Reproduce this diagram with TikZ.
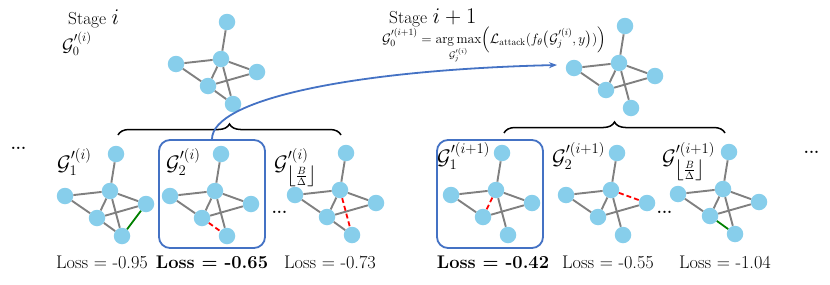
\RequirePackage{fix-cm}
\documentclass[tikz,border=0pt]{standalone}
\usepackage{amsmath}
\usetikzlibrary{decorations.pathreplacing,arrows.meta}
\definecolor{nodeblue}{RGB}{135,206,235}
\definecolor{edgegray}{RGB}{128,128,128}
\definecolor{selblue}{RGB}{68,114,196}
\definecolor{addgreen}{RGB}{0,128,0}
\newcommand{\gnodes}[3]{%
  \node[vtx] (#1t) at (#2+6,#3-37) {};
  \node[vtx] (#1c) at (#2,#3) {};
  \node[vtx] (#1l) at (#2-45,#3+5) {};
  \node[vtx] (#1r) at (#2+36,#3+13) {};
  \node[vtx] (#1m) at (#2-13,#3+27) {};
  \node[vtx] (#1b) at (#2+12,#3+45) {};
}
\newcommand{\gedges}[2]{\foreach \ea/\eb in {#2} {\draw[gedge] (#1\ea) -- (#1\eb);}}
\begin{document}
\begin{tikzpicture}[x=1pt,y=-1pt,
  vtx/.style={circle,fill=nodeblue,minimum size=16.5pt,inner sep=0pt},
  gedge/.style={draw=edgegray,line width=1.9pt},
  addedge/.style={draw=addgreen,line width=1.8pt},
  deledge/.style={draw=red,line width=1.8pt,dash pattern=on 5pt off 3pt},
  selbox/.style={draw=selblue,line width=1.8pt,rounded corners=11pt,minimum width=106pt,minimum height=108pt,inner sep=0pt},
  lossl/.style={anchor=base,inner sep=0pt,font=\fontsize{18.3}{22}\selectfont},
  glbl/.style={anchor=north west,inner sep=0pt,font=\fontsize{21}{25}\selectfont},
  dotsl/.style={anchor=base,inner sep=0pt,font=\fontsize{16}{20}\selectfont\bfseries},
  brc/.style={decorate,decoration={brace,amplitude=11pt},line width=1.5pt},
]
\useasboundingbox (0,0) rectangle (830,284);

% top labels
\node[anchor=base west,inner sep=0pt,font=\fontsize{17.4}{21}\selectfont] (st1) at (68,24) {Stage {\fontsize{22.4}{26}\selectfont$i$}};
\node[anchor=west,inner sep=0pt,font=\fontsize{18}{22}\selectfont] (g0) at (62,44) {$\mathcal{G}'^{(i)}_0$};
\node[anchor=base west,inner sep=0pt,font=\fontsize{17.4}{21}\selectfont] (st2) at (389,23) {Stage {\fontsize{22.4}{26}\selectfont$i+1$}};
\node[anchor=base west,inner sep=0pt,font=\fontsize{13.6}{16}\selectfont] (form) at (382,43)
  {$\mathcal{G}'^{(i+1)}_0 = \mathop{\mathrm{arg\,max}}\limits_{\mathcal{G}'^{(i)}_j}\Bigl(\mathcal{L}_{\text{attack}}(f_\theta\bigl(\mathcal{G}'^{(i)}_j, y\bigr))\Bigr)$};

% graphs
\gnodes{TL}{221}{59}
\gedges{TL}{t/c,l/c,c/r,l/m,c/m,c/b,m/r,m/b}
\gnodes{TR}{619}{63}
\gedges{TR}{t/c,l/c,c/r,l/m,c/m,c/b,m/r}

\gnodes{A}{110}{191}
\gedges{A}{t/c,l/c,c/r,l/m,c/m,c/b,m/r,m/b}
\draw[addedge] (Ar) -- (Ab);

\gnodes{B}{215}{191}
\gedges{B}{t/c,l/c,c/r,l/m,c/m,c/b,m/r}
\draw[deledge] (Bm) -- (Bb);

\gnodes{C}{340}{190}
\gedges{C}{t/c,l/c,c/r,l/m,c/m,m/r,m/b}
\draw[deledge] (Cc) -- (Cb);

\gnodes{D}{496}{190}
\gedges{D}{t/c,l/c,c/r,l/m,c/b,m/r}
\draw[deledge] (Dc) -- (Dm);

\gnodes{E}{611}{190}
\gedges{E}{t/c,l/c,l/m,c/m,c/b,m/r}
\draw[deledge] (Ec) -- (Er);

\gnodes{F}{723}{189}
\gedges{F}{t/c,l/c,c/r,l/m,c/m,c/b,m/r}
\draw[addedge] (Fm) -- (Fb);

% selection boxes
\node[selbox] (box1) at (212,194) {};
\node[selbox] (box2) at (490,194) {};

% braces
\coordinate (b1l) at (118,135);
\coordinate (b1r) at (341,135);
\coordinate (b2l) at (504,133);
\coordinate (b2r) at (725,133);
\draw[brc] (b1l) -- (b1r);
\draw[brc] (b2l) -- (b2r);

% arrow
\coordinate (aend) at (557,65);
\draw[selblue,line width=1.8pt,-{Stealth[length=8pt,width=6pt]}] (box1.north) .. controls (212,100) and (350,70) .. (aend);

% graph labels
\node[glbl] (lA) at (57,148) {$\mathcal{G}'^{(i)}_1$};
\node[glbl] (lB) at (166,148) {$\mathcal{G}'^{(i)}_2$};
\node[glbl] (lC) at (274,148) {$\mathcal{G}'^{(i)}_{\left\lfloor\frac{B}{\Delta}\right\rfloor}$};
\node[glbl] (lD) at (437,142) {$\mathcal{G}'^{(i+1)}_1$};
\node[glbl] (lE) at (552,142) {$\mathcal{G}'^{(i+1)}_2$};
\node[glbl] (lF) at (662,142) {$\mathcal{G}'^{(i+1)}_{\left\lfloor\frac{B}{\Delta}\right\rfloor}$};

% losses
\node[lossl] (sA) at (102,268) {Loss $=$ -0.95};
\node[lossl] (sB) at (212,268) {\textbf{Loss {\boldmath$=$} -0.65}};
\node[lossl] (sC) at (330,268) {Loss $=$ -0.73};
\node[lossl] (sD) at (493,268) {\textbf{Loss {\boldmath$=$} -0.42}};
\node[lossl] (sE) at (608,268) {Loss $=$ -0.55};
\node[lossl] (sF) at (725,268) {Loss $=$ -1.04};

% dots
\node[dotsl] (d1) at (18.5,149) {...};
\node[dotsl] (d2) at (279.5,213) {...};
\node[dotsl] (d3) at (664.5,213) {...};
\node[dotsl] (d4) at (811.5,153) {...};
\end{tikzpicture}
\end{document}
